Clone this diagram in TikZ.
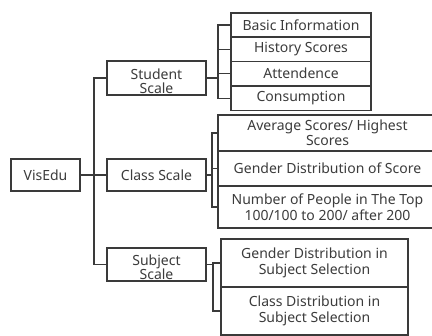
\documentclass[tikz,border=0pt]{standalone}
\usepackage{fontspec}
\setmainfont{Noto Sans}
\definecolor{linec}{HTML}{3A3A3A}
\definecolor{textc}{HTML}{3C3C3C}
\newcommand{\lowtwo}[2]{\raisebox{-5pt}[\height][\depth]{\begin{tabular}{@{}c@{}}#1\\[-1.5pt]#2\end{tabular}}}
\begin{document}
\begin{tikzpicture}[x=1pt,y=-1pt,
  box/.style={draw=linec,line width=1.4pt,rectangle,inner sep=0pt,align=center,
    text=textc,font=\fontsize{14}{15.5}\selectfont},
  conn/.style={draw=linec,line width=1.4pt}]
\fill[white] (0,0) rectangle (432,336);
\clip (0,0) rectangle (432,336);
% root
\node[box,minimum width=69pt,minimum height=32pt] (vis) at (45.5,175) {VisEdu};
% scales
\node[box,minimum width=99pt,minimum height=34pt] (stu) at (156.5,78) {\lowtwo{Student}{Scale}};
\node[box,minimum width=99pt,minimum height=32pt] (cls) at (156.5,175) {Class Scale};
\node[box,minimum width=99pt,minimum height=33pt] (sub) at (156.5,264.5) {\lowtwo{Subject}{Scale}};
% student items
\node[box,minimum width=140pt,minimum height=24pt] (s1) at (301,25) {Basic Information};
\node[box,minimum width=140pt,minimum height=24.5pt] (s2) at (301,49.25) {History Scores};
\node[box,minimum width=140pt,minimum height=24.5pt] (s3) at (301,73.75) {Attendence};
\node[box,minimum width=140pt,minimum height=24.5pt] (s4) at (301,98.25) {Consumption};
% class items
\node[box,minimum width=219pt,minimum height=36pt] (c1) at (327.5,133) {Average Scores/ Highest\\Scores};
\node[box,minimum width=219pt,minimum height=35pt] (c2) at (327.5,168.5) {Gender Distribution of Score};
\node[box,minimum width=219pt,minimum height=42pt] (c3) at (327.5,207) {Number of People in The Top\\100/100 to 200/ after 200};
% subject items
\node[box,minimum width=187pt,minimum height=48pt] (j1) at (314.5,263) {Gender Distribution in\\Subject Selection};
\node[box,minimum width=187pt,minimum height=48pt] (j2) at (314.5,311) {Class Distribution in\\Subject Selection};
% trunk
\coordinate (t) at (94,175);
\draw[conn] (vis.east) -- (t);
\draw[conn] (stu.west) -| (t);
\draw[conn] (sub.west) -| (t);
\draw[conn] (cls.west) -- (t);
% student bracket
\coordinate (sb) at (218,78);
\draw[conn] (stu.east) -- (sb);
\draw[conn] (s1.west) -| (sb);
\draw[conn] (s2.west) -| (sb);
\draw[conn] (s3.west) -| (sb);
\draw[conn] (s4.west) -| (sb);
% class bracket
\coordinate (cb) at (212,175);
\draw[conn] (cls.east) -- (cb);
\draw[conn] (c1.west) -| (cb);
\draw[conn] (c2.west) -| (cb);
\draw[conn] (c3.west) -| (cb);
% subject bracket
\coordinate (jb) at (213,264.5);
\draw[conn] (sub.east) -- (jb);
\draw[conn] (j1.west) -| (jb);
\draw[conn] (j2.west) -| (jb);
\end{tikzpicture}
\end{document}
